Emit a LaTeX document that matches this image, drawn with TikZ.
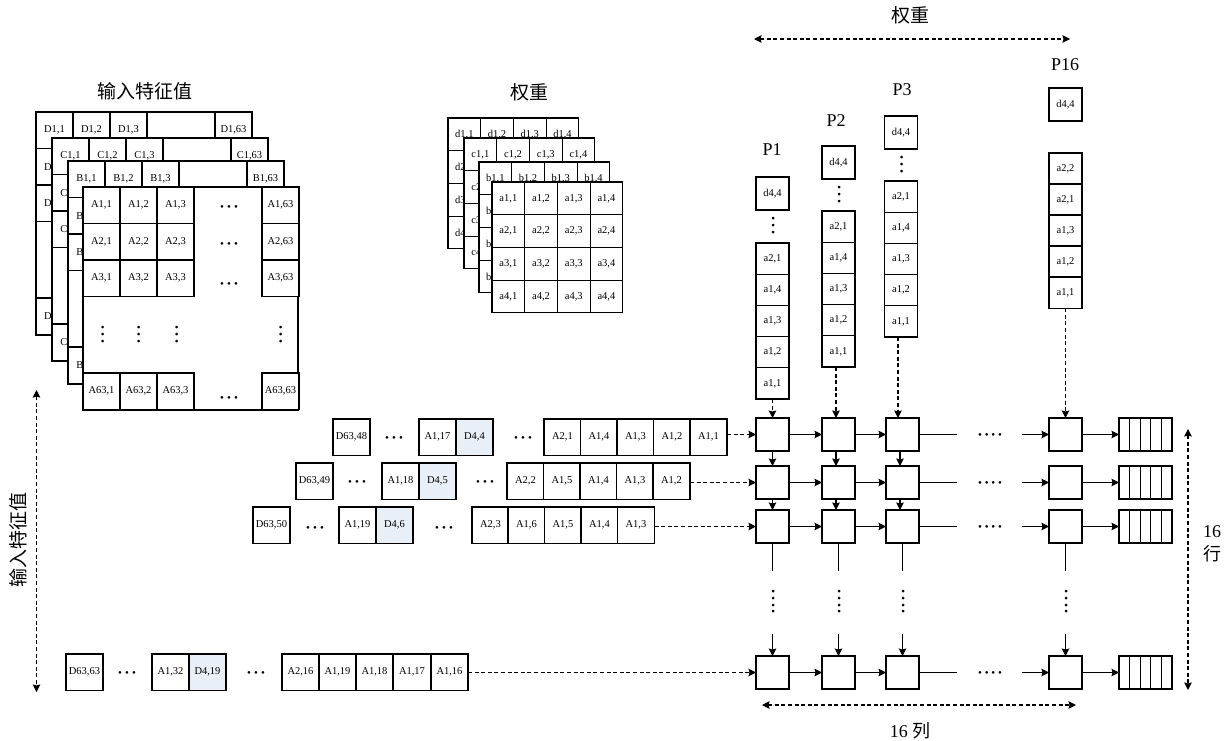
\documentclass[tikz,border=0pt]{standalone}
\usepackage{fontspec}
\setmainfont{Liberation Serif}
\newfontfamily\cjk{Noto Sans CJK SC}
\usetikzlibrary{arrows.meta}
\newcommand\FeatW{37}
\newcommand\FeatH{36.5}
\newcommand\WgtS{32.7}
\newcommand\dotsThree{\smash{\raisebox{-4.3pt}{•\kern3.1pt•\kern3.1pt•}}}
\newcommand\dotsFour{\smash{\raisebox{-4.3pt}{•\kern2.8pt•\kern2.8pt•\kern2.8pt•}}}
\tikzset{
  cell/.style={
    shape = rectangle,
    draw,
    fill = white,
    line width = 1.1pt,
    inner sep = 0pt,
    outer sep = 0pt,
    anchor = north west,
    font = \fontsize{10.5}{10.5}\selectfont,
    minimum width = \FeatW pt,
    minimum height = \FeatH pt
  },
  wgtcell/.style={
    cell,
    minimum width = \WgtS pt,
    minimum height = \WgtS pt
  },
  colcell/.style={
    cell,
    minimum width = 33pt,
    minimum height = 31.2pt
  },
  pebox/.style={
    cell,
    minimum width = 33pt,
    minimum height = 33pt
  },
  bufcell/.style={
    cell,
    minimum width = 10.6pt,
    minimum height = 33pt
  },
  hlcell/.style={
    cell,
    fill = hlblue
  },
  sheet/.style={
    cell,
    minimum width = 215pt,
    minimum height = 223pt
  },
  flow/.style={
    line width = 1.1pt,
    -{Stealth[length=7.5pt,width=7.5pt,inset=1pt]}
  },
  dashflow/.style={
    flow,
    dash pattern = on 4pt off 2.6pt
  },
  dashboth/.style={
    dashflow,
    {Stealth[length=7.5pt,width=7.5pt,inset=1pt]}-{Stealth[length=7.5pt,width=7.5pt,inset=1pt]}
  },
  stub/.style={
    line width = 1.1pt
  },
  hdots/.style={
    inner sep = 0pt,
    font = \fontsize{11}{11}\selectfont
  },
  vdots/.style={
    hdots,
    rotate = 90
  },
  title/.style={
    inner sep = 0pt,
    font = \fontsize{19}{19}\selectfont\cjk
  },
  plabel/.style={
    inner sep = 0pt,
    font = \fontsize{18}{18}\selectfont
  }
}
\definecolor{hlblue}{HTML}{E8EFF7}
% input sheet: name, x, y, letter
\newcommand\featsheet[4]{
  \node[sheet] (#1) at (#2,#3) {};
  \foreach \dx/\c in {0/1,37/2,74/3,179/63}
    \node[cell] (#1-1-\c) at ({#2+\dx},#3) {#41,\c};
}
% weight sheet top row: name, x, y, letter
\newcommand\wgtsheet[4]{
  \foreach \c in {1,2,3,4}
    \node[wgtcell] (#1-1-\c) at ({#2+(\c-1)*\WgtS},#3) {#41,\c};
}
\begin{document}
\begin{tikzpicture}[x=1pt,y=-1pt]
  \useasboundingbox (0,0) rectangle (1228,740);

  \node[title] (featT) at (145,91) {输入特征值};
  \node[title] (wgtT) at (529,92) {权重};

  \foreach \n/\x/\y in {D/36/112,C/52/138,B/68/161}{
    \featsheet{\n}{\x}{\y}{\n}
    \foreach \dy/\r in {36.5/2,73/3,186/63}
      \node[cell] (\n-\r-1) at (\x,{\y+\dy}) {\n\hphantom{2,1}};
  }
  \featsheet{A}{83}{187}{A}
  \foreach \dy/\r in {36.5/2,73/3,186/63}
    \foreach \dx/\c in {0/1,37/2,74/3,179/63}
      \node[cell] (A-\r-\c) at ({83+\dx},{187+\dy}) {A\r,\c};
  \foreach \y [count=\i] in {206,243,283,397}
    \node[hdots] (Adots\i) at (229,\y) {\dotsThree};
  \foreach \x [count=\i] in {102,138,176,280}
    \node[vdots] (Avdots\i) at (\x,335) {\dotsThree};

  \wgtsheet{d}{448}{118}{d}
  \foreach \r in {2,3,4}
    \node[wgtcell] (d-\r-1) at (448,{118+(\r-1)*\WgtS}) {d\r\hphantom{,1}};
  \wgtsheet{c}{464}{138}{c}
  \foreach \r in {2,3,4}
    \node[wgtcell] (c-\r-1) at (464,{138+(\r-1)*\WgtS}) {c\r\hphantom{,1}};
  \wgtsheet{b}{479}{162}{b}
  \foreach \r in {2,3,4}
    \node[wgtcell] (b-\r-1) at (479,{162+(\r-1)*\WgtS}) {b\hphantom{\r,1}};
  \wgtsheet{a}{492}{182}{a}
  \foreach \r in {2,3,4}
    \foreach \c in {1,2,3,4}
      \node[wgtcell] (a-\r-\c) at ({492+(\c-1)*\WgtS},{182+(\r-1)*\WgtS}) {a\r,\c};

  % weight columns
  \foreach \p/\x/\ty/\cy in {1/756/177/243,2/822/146/211,3/884.5/116/181}{
    \node[pebox] (top\p) at (\x,\ty) {d4,4};
    \node[vdots] (colv\p) at ({\x+16.5},{\ty+49}) {\dotsThree};
    \foreach \t [count=\i] in {{a2,1},{a1,4},{a1,3},{a1,2},{a1,1}}
      \node[colcell] (w\p-\i) at (\x,{\cy+(\i-1)*31.2}) {\t};
  }
  \node[pebox] (top16) at (1049,88) {d4,4};
  \foreach \t [count=\i] in {{a2,2},{a2,1},{a1,3},{a1,2},{a1,1}}
    \node[colcell] (w16-\i) at (1049,{153+(\i-1)*31}) {\t};

  \node[plabel] (P1) at (772,150) {P1};
  \node[plabel] (P2) at (836,121) {P2};
  \node[plabel] (P3) at (902,90) {P3};
  \node[plabel] (P16) at (1065,65) {P16};

  % PE grid
  \foreach \c/\x in {1/756,2/822,3/886,16/1049}
    \foreach \r/\y in {1/418,2/466,3/510,16/656}
      \node[pebox] (pe\c-\r) at (\x,\y) {};
  \foreach \r/\y in {1/418,2/466,3/510,16/656}{
    \foreach \i in {1,...,5}
      \node[bufcell] (buf\r-\i) at ({1119+(\i-1)*10.6},\y) {};
    \coordinate (out\r) at (957,{\y+16.5});
    \coordinate (in\r) at (1022,{\y+16.5});
    \node[hdots] (rdots\r) at (990,{\y+16.5}) {\dotsFour};
    \draw[flow] (pe1-\r) -- (pe2-\r);
    \draw[flow] (pe2-\r) -- (pe3-\r);
    \draw[stub] (pe3-\r) -- (out\r);
    \draw[flow] (in\r) -- (pe16-\r);
    \draw[flow] (pe16-\r) -- (buf\r-1);
  }
  \foreach \c/\dx in {1/0,2/-2.5,3/-2.5}{
    \draw[flow] ([xshift=\dx]pe\c-1.south) -- ([xshift=\dx]pe\c-2.north);
    \draw[flow] ([xshift=\dx]pe\c-2.south) -- ([xshift=\dx]pe\c-3.north);
  }
  \foreach \c/\x in {1/772.5,2/838.5,3/902.5,16/1065.5}{
    \coordinate (stop\c) at (\x,571);
    \coordinate (start\c) at (\x,634);
    \draw[stub] (pe\c-3.south) -- (stop\c);
    \draw[flow] (start\c) -- (pe\c-16.north);
    \node[vdots] (gridv\c) at (\x,602) {\dotsFour};
  }
  \draw[dashflow] (w1-5) -- (pe1-1);
  \draw[dashflow] ([xshift=-2.5]w2-5.south) -- ([xshift=-2.5]pe2-1.north);
  \draw[dashflow] ([xshift=-3]w3-5.south) -- ([xshift=-4.5]pe3-1.north);
  \draw[dashflow] (w16-5) -- (pe16-1);

  % data rows
  \foreach \x/\t [count=\i] in {333/{D63,48},419/{A1,17},544/{A2,1},580.5/{A1,4},617/{A1,3},653.5/{A1,2},690/{A1,1}}
    \node[cell] (row1-\i) at (\x,419) {\t};
  \node[hlcell] (row1-hl) at (456,419) {D4,4};
  \node[hdots] (row1-a) at (394,437) {\dotsThree};
  \node[hdots] (row1-b) at (523,437) {\dotsThree};
  \draw[dashflow] (pe1-1 -| row1-7.east) -- (pe1-1);

  \foreach \x/\t [count=\i] in {296/{D63,49},382/{A1,18},507/{A2,2},543.5/{A1,5},580/{A1,4},616.5/{A1,3},653/{A1,2}}
    \node[cell] (row2-\i) at (\x,463) {\t};
  \node[hlcell] (row2-hl) at (419,463) {D4,5};
  \node[hdots] (row2-a) at (357,481) {\dotsThree};
  \node[hdots] (row2-b) at (485,481) {\dotsThree};
  \draw[dashflow] (pe1-2 -| row2-7.east) -- (pe1-2);

  \foreach \x/\t [count=\i] in {253/{D63,50},339/{A1,19},472/{A2,3},508/{A1,6},544.5/{A1,5},581/{A1,4},617.5/{A1,3}}
    \node[cell] (row3-\i) at (\x,507) {\t};
  \node[hlcell] (row3-hl) at (376,507) {D4,6};
  \node[hdots] (row3-a) at (315,527) {\dotsThree};
  \node[hdots] (row3-b) at (444,527) {\dotsThree};
  \draw[dashflow] (pe1-3 -| row3-7.east) -- (pe1-3);

  \foreach \x/\t [count=\i] in {66/{D63,63},152/{A1,32},282/{A2,16},319/{A1,19},356/{A1,18},393.5/{A1,17},431/{A1,16}}
    \node[cell] (row16-\i) at (\x,654) {\t};
  \node[hlcell] (row16-hl) at (189,654) {D4,19};
  \node[hdots] (row16-a) at (127,672) {\dotsThree};
  \node[hdots] (row16-b) at (256,672) {\dotsThree};
  \draw[dashflow] (pe1-16 -| row16-7.east) -- (pe1-16);

  % extents
  \coordinate (wL) at (754,39);
  \coordinate (wR) at (1070,39);
  \draw[dashboth] (wL) -- (wR);
  \node[title] (wgtTop) at (910,15) {权重};
  \coordinate (cL) at (762,705);
  \coordinate (cR) at (1076,705);
  \draw[dashboth] (cL) -- (cR);
  \node[plabel] (colN) at (910,731) {16 {\cjk 列}};
  \coordinate (rT) at (1188,429);
  \coordinate (rB) at (1188,690);
  \draw[dashboth] (rT) -- (rB);
  \node[plabel,align=center] (rowN) at (1212,544) {16\\[5pt]{\cjk 行}};
  \coordinate (fT) at (36.5,390);
  \coordinate (fB) at (36.5,692);
  \draw[dashboth] (fT) -- (fB);
  \node[title,rotate=90] (featV) at (18,540) {输入特征值};
\end{tikzpicture}
\end{document}
